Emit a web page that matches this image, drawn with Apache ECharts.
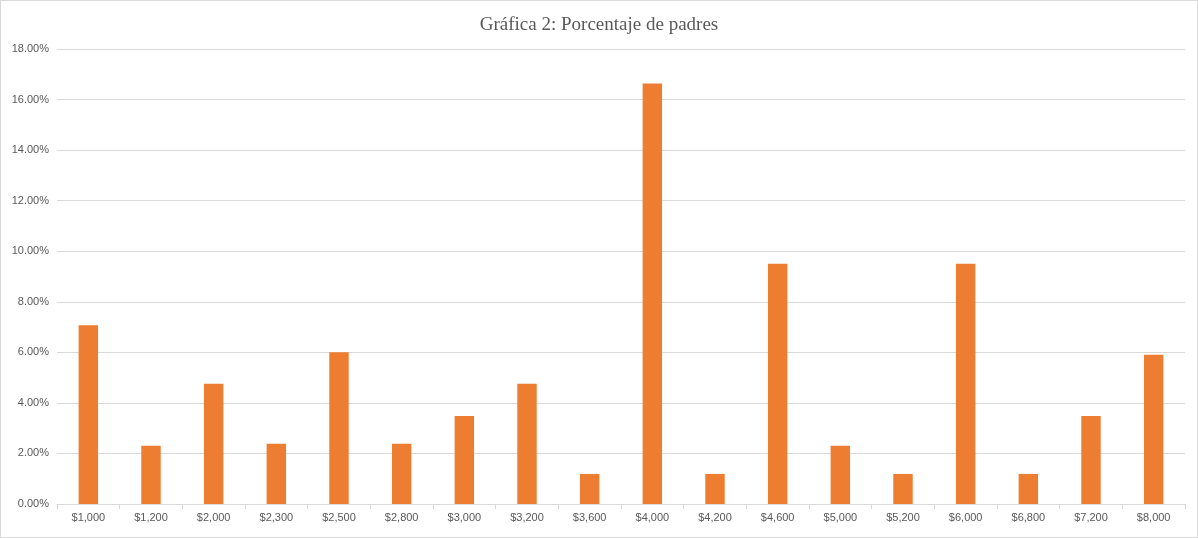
<!DOCTYPE html>
<html><head><meta charset="utf-8">
<script src="https://cdn.jsdelivr.net/npm/echarts@6/dist/echarts.min.js"></script>
<style>html,body{margin:0;padding:0;background:#fff}#c{width:1198px;height:538px;box-sizing:border-box;border:1px solid #d9d9d9}</style>
</head><body><div id="c"></div>
<script>
const categories = ['$1,000','$1,200','$2,000','$2,300','$2,500','$2,800','$3,000','$3,200','$3,600','$4,000','$4,200','$4,600','$5,000','$5,200','$6,000','$6,800','$7,200','$8,000'];
const values = [7.07,2.30,4.76,2.38,6.0,2.38,3.48,4.76,1.19,16.64,1.19,9.50,2.30,1.19,9.50,1.19,3.48,5.90];
const chart = echarts.init(document.getElementById('c'));
chart.setOption({
  animation:false,
  title:{text:'Gráfica 2: Porcentaje de padres',left:'center',top:10,textStyle:{fontFamily:'Liberation Serif',fontSize:19,fontWeight:'normal',color:'#595959'}},
  grid:{left:56,right:12,top:48,bottom:33},
  xAxis:{type:'category',data:categories,axisTick:{show:true,alignWithLabel:false,lineStyle:{color:'#d9d9d9'}},axisLine:{lineStyle:{color:'#d9d9d9'}},axisLabel:{color:'#595959',fontSize:11,fontFamily:'Liberation Sans'}},
  yAxis:{type:'value',min:0,max:18,interval:2,axisLabel:{formatter:v=>v.toFixed(2)+'%',color:'#595959',fontSize:11,fontFamily:'Liberation Sans'},splitLine:{lineStyle:{color:'#d9d9d9'}},axisLine:{show:false}},
  series:[{type:'bar',data:values,barWidth:'31%',itemStyle:{color:'#ed7d31'}}]
});
</script></body></html>
